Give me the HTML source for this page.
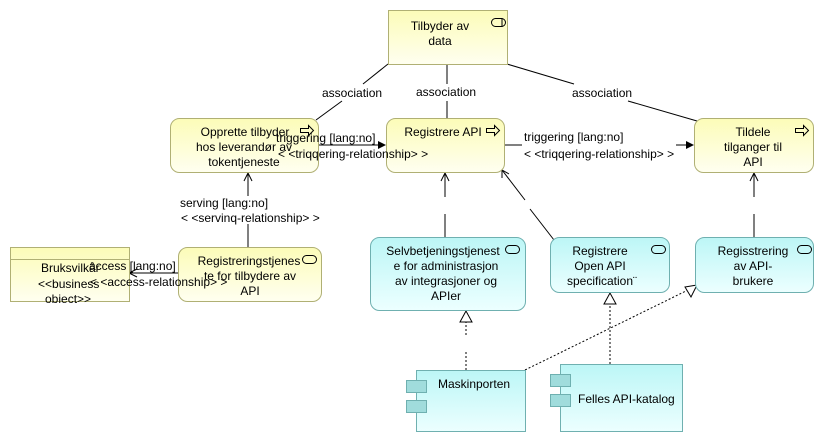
<!DOCTYPE html>
<html><head><meta charset="utf-8"><style>
html,body{margin:0;padding:0;background:#fff;}
svg{display:block;font-family:"Liberation Sans",sans-serif;font-size:12px;}
text{fill:#000;}
</style></head><body>
<svg width="824" height="441" viewBox="0 0 824 441" xmlns="http://www.w3.org/2000/svg">
<defs>
<linearGradient id="y" x1="0" y1="0" x2="0" y2="1"><stop offset="0" stop-color="#fcfcb8"/><stop offset="1" stop-color="#fffff0"/></linearGradient>
<linearGradient id="c" x1="0" y1="0" x2="0" y2="1"><stop offset="0" stop-color="#bcf6f6"/><stop offset="1" stop-color="#ecffff"/></linearGradient>
</defs>
<g stroke="#000" stroke-width="1" fill="none">
<line x1="388" y1="64" x2="363" y2="84"/><line x1="342" y1="101" x2="316" y2="120"/>
<line x1="447" y1="64" x2="447" y2="84"/><line x1="447" y1="101" x2="447" y2="118"/>
<line x1="507" y1="64" x2="574" y2="84"/><line x1="628" y1="101" x2="697" y2="121"/>
<line x1="318" y1="145" x2="380" y2="145"/>
<line x1="504" y1="145" x2="522" y2="145"/><line x1="676" y1="145" x2="688" y2="145"/>
<line x1="248" y1="173" x2="248" y2="196"/><line x1="248" y1="224" x2="248" y2="247"/>
<polyline points="244,181 248,173 252,181"/>
<line x1="445" y1="173" x2="445" y2="197"/><line x1="445" y1="214" x2="445" y2="237"/>
<polyline points="441,181 445,173 449,181"/>
<line x1="502" y1="170" x2="525" y2="200"/><line x1="530" y1="209" x2="554" y2="240"/>
<polyline points="502,178 502,170 509,174"/>
<line x1="754" y1="173" x2="754" y2="197"/><line x1="754" y1="214" x2="754" y2="237"/>
<polyline points="750,181 754,173 758,181"/>
<line x1="129" y1="273" x2="178" y2="273"/>
<polyline points="137,269 129,273 137,277"/>
</g>
<g fill="#000">
<polygon points="386,145 378,141 378,149"/>
<polygon points="694,145 686,141 686,149"/>
</g>
<g stroke="#000" stroke-dasharray="2,2" fill="none">
<line x1="466" y1="370" x2="466" y2="350"/><line x1="466" y1="335" x2="466" y2="322"/>
<line x1="610" y1="364" x2="610" y2="304"/>
<line x1="525" y1="370" x2="688" y2="290"/>
</g>
<g stroke="#000" fill="#fff">
<polygon points="466,311 460,322 472,322"/>
<polygon points="610,293 604,304 616,304"/>
<polygon points="697,285 685,287 691,297"/>
</g>
<g stroke="#b0b074" stroke-width="1">
<rect x="388.5" y="10.5" width="119" height="54" fill="url(#y)"/>
<rect x="170.5" y="118.5" width="148" height="54" rx="9" fill="url(#y)"/>
<rect x="386.5" y="118.5" width="118" height="54" rx="9" fill="url(#y)"/>
<rect x="694.5" y="118.5" width="119" height="54" rx="9" fill="url(#y)"/>
<rect x="10.5" y="247.5" width="119" height="54" fill="url(#y)"/>
<line x1="10" y1="259.5" x2="130" y2="259.5"/>
<rect x="178.5" y="247.5" width="143" height="54" rx="9" fill="url(#y)"/>
</g>
<g stroke="#6fb0b0" stroke-width="1">
<rect x="370.5" y="237.5" width="155" height="73" rx="9" fill="url(#c)"/>
<rect x="550.5" y="237.5" width="119" height="55" rx="9" fill="url(#c)"/>
<rect x="695.5" y="237.5" width="118" height="55" rx="9" fill="url(#c)"/>
<rect x="416.5" y="370.5" width="109" height="61" fill="url(#c)"/>
<rect x="560.5" y="364.5" width="122" height="67" fill="url(#c)"/>
<rect x="406.5" y="380.5" width="20" height="12" fill="#a0dcdc"/>
<rect x="406.5" y="400.5" width="20" height="12" fill="#a0dcdc"/>
<rect x="550.5" y="374.5" width="20" height="12" fill="#a0dcdc"/>
<rect x="550.5" y="394.5" width="20" height="12" fill="#a0dcdc"/>
</g>
<g stroke="#000" fill="none">
<rect x="491.5" y="18.5" width="14" height="8" rx="4"/><line x1="502" y1="18" x2="502" y2="27"/>
<rect x="505.5" y="245.5" width="14" height="8" rx="4"/>
<rect x="651.5" y="245.5" width="14" height="8" rx="4"/>
<rect x="797.5" y="245.5" width="14" height="8" rx="4"/>
<rect x="302.5" y="255.5" width="14" height="8" rx="4"/>
<path d="M300.5 128.5h8v-3l5 5-5 5v-3h-8z"/>
<path d="M486.5 128.5h8v-3l5 5-5 5v-3h-8z"/>
<path d="M795.5 128.5h8v-3l5 5-5 5v-3h-8z"/>
</g>
<g text-anchor="middle">
<text x="440" y="30">Tilbyder av</text><text x="440" y="45">data</text>
<text x="245" y="136">Opprette tilbyder</text><text x="244" y="151">hos leverandør av</text><text x="244" y="166">tokentjeneste</text>
<text x="443" y="136">Registrere API</text>
<text x="753" y="136">Tildele</text><text x="753" y="151">tilganger til</text><text x="753" y="166">API</text>
<text x="249" y="265">Registreringstjenes</text><text x="250" y="280">te for tilbydere av</text><text x="250" y="295">API</text>
<text x="443" y="255">Selvbetjeningstjenest</text><text x="446" y="270">e for administrasjon</text><text x="446" y="285">av integrasjoner og</text><text x="446" y="300">APIer</text>
<text x="600" y="255">Registrere</text><text x="600" y="270">Open API</text><text x="602" y="285">specification¨</text>
<text x="753" y="255">Regisstrering</text><text x="753" y="270">av API-</text><text x="753" y="285">brukere</text>
</g>
<text x="438" y="388">Maskinporten</text>
<text x="578" y="403">Felles API-katalog</text>
<text x="41" y="272">Bruksvilkår</text>
<text x="38" y="288">&lt;&lt;business</text>
<text x="45" y="303">obiect&gt;&gt;</text>
<text x="322" y="97">association</text>
<text x="416" y="96">association</text>
<text x="572" y="97">association</text>
<text x="276" y="142">triggering [lang:no]</text>
<text x="278" y="158">&lt; &lt;triqqering-relationship&gt; &gt;</text>
<text x="524" y="141">triggering [lang:no]</text>
<text x="524" y="158">&lt; &lt;triqqering-relationship&gt; &gt;</text>
<text x="180" y="207">serving [lang:no]</text>
<text x="181" y="222">&lt; &lt;servinq-relationship&gt; &gt;</text>
<text x="89" y="270">access [lang:no]</text>
<text x="90" y="286">&lt; &lt;access-relationship&gt; &gt;</text>
</svg>
</body></html>
